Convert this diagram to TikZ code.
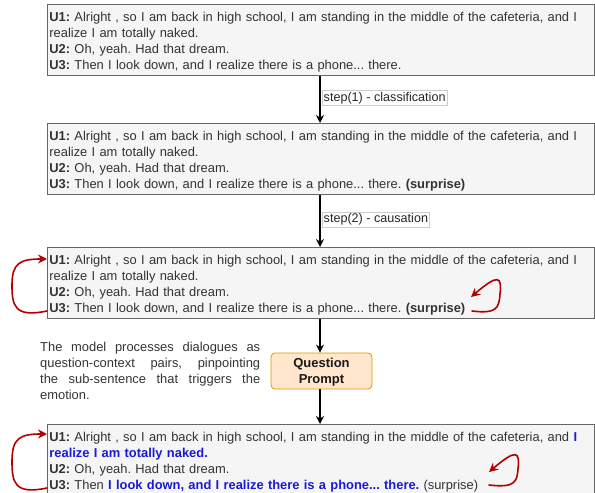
\documentclass[tikz,border=0pt]{standalone}
\usepackage{fontspec}
\setmainfont{Liberation Sans}
\usetikzlibrary{arrows.meta}
\frenchspacing
\definecolor{txt}{HTML}{333333}
\definecolor{boxfill}{HTML}{F5F5F5}
\definecolor{boxline}{HTML}{666666}
\definecolor{hlblue}{HTML}{1A1AD6}
\definecolor{redarr}{HTML}{B20000}
\definecolor{qfill}{HTML}{FFE6CC}
\definecolor{qline}{HTML}{D79B00}
\newcommand{\firstheight}{\rule{0pt}{13.4bp}}
\tikzset{
  dlgbox/.style={draw=boxline, fill=boxfill, line width=0.8bp, anchor=north west,
    text width=543bp, inner xsep=2bp, inner ysep=0bp, minimum height=71bp,
    align=left, text=txt, font=\fontsize{12.9bp}{16bp}\selectfont\frenchspacing},
  flow/.style={line width=1.6bp, -{Stealth[length=8bp,width=8bp]}},
  steplabel/.style={draw=black!20, line width=0.4bp, fill=white, anchor=west, inner sep=1.5bp,
    font=\fontsize{12.6bp}{14bp}\selectfont, text=black!85},
  loop/.style={draw=redarr, line width=1.6bp, line cap=round, -{Stealth[length=9bp,width=9bp]}},
  qbox/.style={draw=qline, fill=qfill, line width=0.8bp, rounded corners=4bp,
    minimum width=101bp, minimum height=36bp, align=center, inner sep=0bp,
    font=\fontsize{13bp}{16bp}\selectfont\bfseries, text=black!90},
  note/.style={anchor=north west, inner sep=0bp, align=left, text=txt,
    font=\fontsize{12.9bp}{16bp}\selectfont}
}
\begin{document}
\begin{tikzpicture}[x=1bp, y=-1bp]
\useasboundingbox (0,0) rectangle (595,493);

\node[dlgbox] (b1) at (47,4) {\firstheight\textbf{U1:} Alright , so I am back in high school, I am standing in the middle of the cafeteria, and I\\realize I am totally naked.\\\textbf{U2:} Oh, yeah. Had that dream.\\\textbf{U3:} Then I look down, and I realize there is a phone... there.};

\node[dlgbox] (b2) at (47,123) {\firstheight\textbf{U1:} Alright , so I am back in high school, I am standing in the middle of the cafeteria, and I\\realize I am totally naked.\\\textbf{U2:} Oh, yeah. Had that dream.\\\textbf{U3:} Then I look down, and I realize there is a phone... there. \textbf{(surprise)}};

\node[dlgbox] (b3) at (47,247) {\firstheight\textbf{U1:} Alright , so I am back in high school, I am standing in the middle of the cafeteria, and I\\realize I am totally naked.\\\textbf{U2:} Oh, yeah. Had that dream.\\\textbf{U3:} Then I look down, and I realize there is a phone... there. \textbf{(surprise)}};

\node[qbox] (q) at (321.5,371) {\rule{0pt}{11.5bp}Question\\Prompt};

\node[dlgbox] (b4) at (47,424) {\firstheight\textbf{U1:} Alright , so I am back in high school, I am standing in the middle of the cafeteria, and \textcolor{hlblue}{\textbf{I}}\\\textcolor{hlblue}{\textbf{realize I am totally naked.}}\\\textbf{U2:} Oh, yeah. Had that dream.\\\textbf{U3:} Then \textcolor{hlblue}{\textbf{I look down, and I realize there is a phone... there.}} (surprise)};

\node[note] (n) at (40,342) {\makebox[220bp][s]{The model processes dialogues as}\\\makebox[220bp][s]{question-context pairs, pinpointing}\\\makebox[220bp][s]{the sub-sentence that triggers the}\\emotion.};

\draw[flow] (b1.south -| 320,0) -- (b2.north -| 320,0) node[steplabel, pos=0.47, xshift=2bp] (l1) {step(1) - classification};
\draw[flow] (b2.south -| 320,0) -- (b3.north -| 320,0) node[steplabel, pos=0.47, xshift=2bp] (l2) {step(2) - causation};
\draw[flow] (b3.south -| 320,0) -- (q.north -| 320,0);
\draw[flow] (q.south -| 320,0) -- (b4.north -| 320,0);

% red loops, box 3
\coordinate (a3s) at (47,311);
\coordinate (a3e) at (47,259);
\draw[loop] (a3s) .. controls (14,318) and (12,305) .. (12,285) .. controls (12,263) and (20,259) .. (a3e);
\coordinate (r3s) at (472,311);
\coordinate (r3e) at (471,297);
\draw[loop] (r3s) .. controls (497,314) and (499,308) .. (500,294) .. controls (502,276) and (498,274) .. (r3e);

% red loops, box 4
\coordinate (a4s) at (47,488);
\coordinate (a4e) at (47,434);
\draw[loop] (a4s) .. controls (14,495) and (12,482) .. (12,461) .. controls (12,438) and (20,434) .. (a4e);
\coordinate (r4s) at (489,485);
\coordinate (r4e) at (489,472);
\draw[loop] (r4s) .. controls (515,488) and (517,482) .. (518,469) .. controls (520,451) and (516,449) .. (r4e);
\end{tikzpicture}
\end{document}
